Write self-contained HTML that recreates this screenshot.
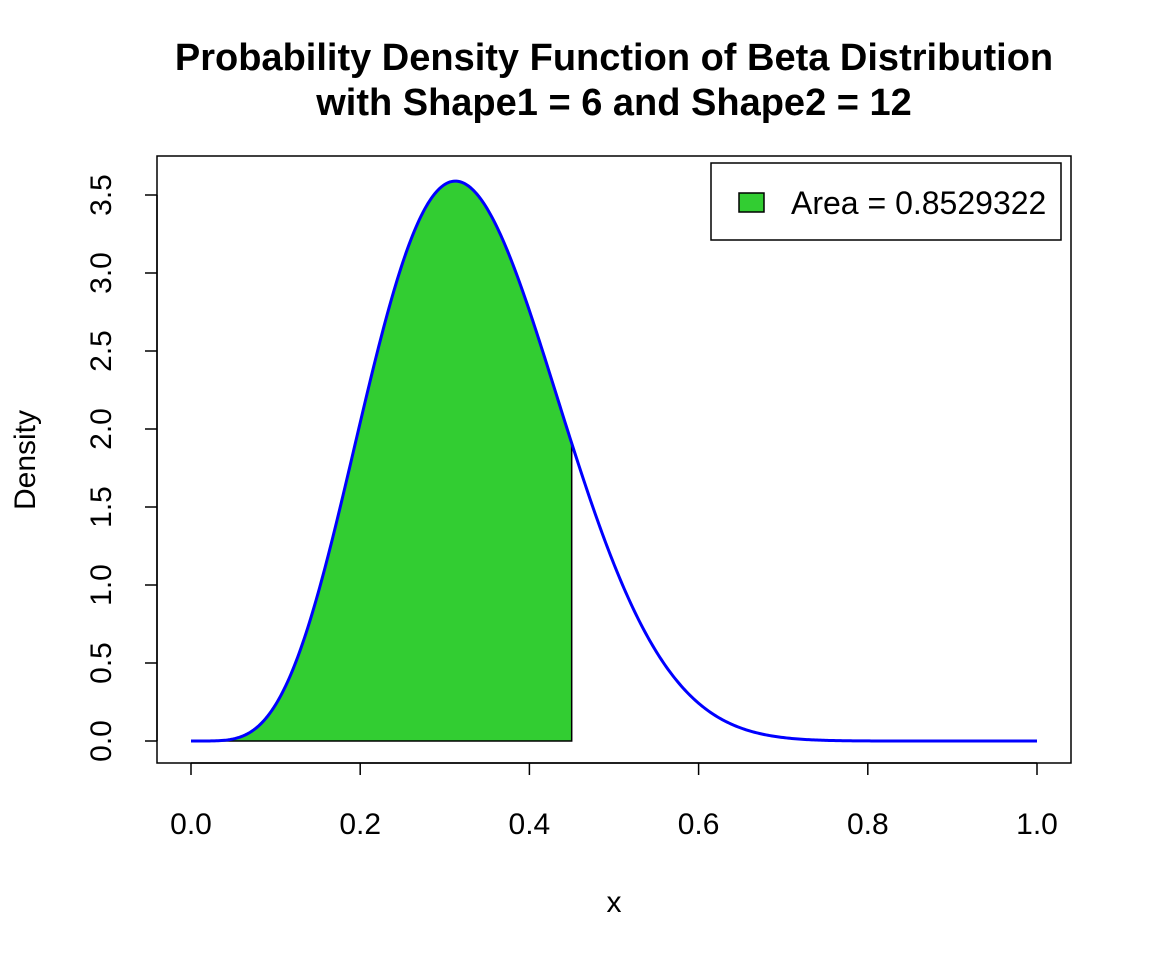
<!DOCTYPE html>
<html><head><meta charset="utf-8"><style>
html,body{margin:0;padding:0;background:#fff;}
svg{display:block;font-family:"Liberation Sans",Arial,sans-serif;}
</style></head><body>
<svg id="s" width="1152" height="960" viewBox="0 0 1152 960" xmlns="http://www.w3.org/2000/svg">
<rect width="1152" height="960" fill="#fff"/>
<text x="614" y="70" text-anchor="middle" style="font-size:38px;font-weight:bold">Probability Density Function of Beta Distribution</text>
<text x="614" y="115" text-anchor="middle" style="font-size:38px;font-weight:bold">with Shape1 = 6 and Shape2 = 12</text>
<path id="fill" fill="#32CD32" stroke="#000" stroke-width="1.5"/>
<path id="line" fill="none" stroke="#0000FF" stroke-width="3"/>
<rect x="157" y="156" width="914" height="607" fill="none" stroke="#000" stroke-width="1.5"/>
<g stroke="#000" stroke-width="1.5">
<line x1="191" y1="763" x2="1037" y2="763"/>
<line x1="191" y1="763" x2="191" y2="775"/><line x1="360.2" y1="763" x2="360.2" y2="775"/>
<line x1="529.4" y1="763" x2="529.4" y2="775"/><line x1="698.6" y1="763" x2="698.6" y2="775"/>
<line x1="867.8" y1="763" x2="867.8" y2="775"/><line x1="1037" y1="763" x2="1037" y2="775"/>
<line x1="157" y1="741" x2="157" y2="195"/>
<line x1="145" y1="741" x2="157" y2="741"/><line x1="145" y1="663" x2="157" y2="663"/>
<line x1="145" y1="585" x2="157" y2="585"/><line x1="145" y1="507" x2="157" y2="507"/>
<line x1="145" y1="429" x2="157" y2="429"/><line x1="145" y1="351" x2="157" y2="351"/>
<line x1="145" y1="273" x2="157" y2="273"/><line x1="145" y1="195" x2="157" y2="195"/>
</g>
<g style="font-size:30px" text-anchor="middle">
<text x="191" y="834">0.0</text><text x="360.2" y="834">0.2</text><text x="529.4" y="834">0.4</text>
<text x="698.6" y="834">0.6</text><text x="867.8" y="834">0.8</text><text x="1037" y="834">1.0</text>
<text x="614" y="912">x</text>
<text transform="translate(111,741) rotate(-90)">0.0</text>
<text transform="translate(111,663) rotate(-90)">0.5</text>
<text transform="translate(111,585) rotate(-90)">1.0</text>
<text transform="translate(111,507) rotate(-90)">1.5</text>
<text transform="translate(111,429) rotate(-90)">2.0</text>
<text transform="translate(111,351) rotate(-90)">2.5</text>
<text transform="translate(111,273) rotate(-90)">3.0</text>
<text transform="translate(111,195) rotate(-90)">3.5</text>
<text transform="translate(35,460) rotate(-90)">Density</text>
</g>
<rect x="711" y="163" width="350" height="77" fill="#fff" stroke="#000" stroke-width="1.5"/>
<rect x="739" y="193" width="25" height="19" fill="#32CD32" stroke="#000" stroke-width="1.5"/>
<text x="791" y="214" style="font-size:32px">Area = 0.8529322</text>
</svg>
<script>
var iB=74256.0;
function f(x){return Math.pow(x,5)*Math.pow(1-x,11)*iB;}
function X(x){return 191+846*x;}
function Y(y){return 741-156*y;}
var d="";for(var i=0;i<=500;i++){var x=i/500;d+=(i?"L":"M")+X(x).toFixed(2)+","+Y(f(x)).toFixed(2);}
document.getElementById("line").setAttribute("d",d);
var g="M191,741";for(var i=0;i<=450;i++){var x=i/1000;g+="L"+X(x).toFixed(2)+","+Y(f(x)).toFixed(2);}
g+="L"+X(0.45)+",741Z";
document.getElementById("fill").setAttribute("d",g);
</script>
</body></html>
